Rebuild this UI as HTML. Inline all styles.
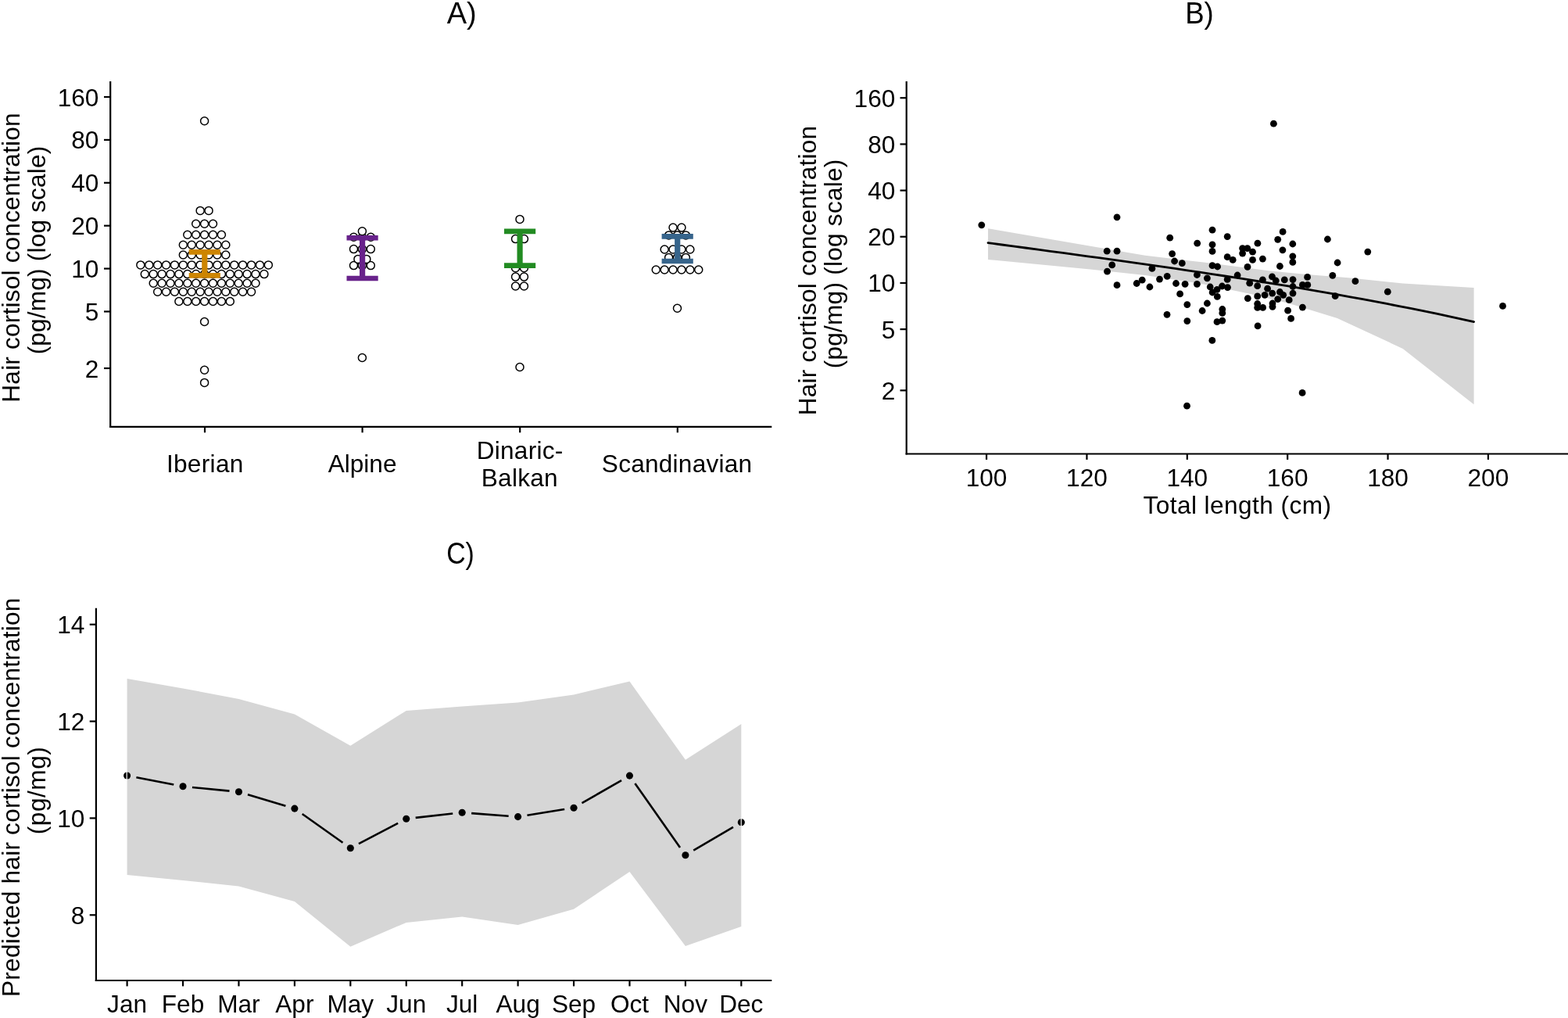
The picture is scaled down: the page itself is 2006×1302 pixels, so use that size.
<!DOCTYPE html>
<html><head><meta charset="utf-8"><title>Figure</title>
<style>
html,body{margin:0;padding:0;background:#fff;}
body{width:2006px;height:1302px;overflow:hidden;}
svg{display:block;}
text{font-family:"Liberation Sans", Arial, Helvetica, sans-serif;fill:#000;}
</style></head>
<body>
<svg width="2006" height="1302" viewBox="0 0 2006 1302">
<rect x="0" y="0" width="2006" height="1302" fill="#fff"/>
<text x="590.7" y="29.7" text-anchor="middle" font-size="38">A)</text>
<text x="1534.5" y="29.7" text-anchor="middle" font-size="38" textLength="36.6" lengthAdjust="spacingAndGlyphs">B)</text>
<text x="589" y="721" text-anchor="middle" font-size="38" textLength="35.7" lengthAdjust="spacingAndGlyphs">C)</text>
<g fill="#fff" stroke="#000" stroke-width="1.5">
<circle cx="261.6" cy="489.4" r="5"/>
<circle cx="261.6" cy="473.2" r="5"/>
<circle cx="665" cy="469.5" r="5"/>
<circle cx="463.4" cy="457.5" r="5"/>
<circle cx="261.6" cy="411.5" r="5"/>
<circle cx="866.5" cy="394.2" r="5"/>
<circle cx="228.9" cy="385.5" r="5"/>
<circle cx="239.8" cy="385.5" r="5"/>
<circle cx="250.7" cy="385.5" r="5"/>
<circle cx="261.6" cy="385.5" r="5"/>
<circle cx="272.5" cy="385.5" r="5"/>
<circle cx="283.4" cy="385.5" r="5"/>
<circle cx="294.3" cy="385.5" r="5"/>
<circle cx="201.65" cy="373.3" r="5"/>
<circle cx="212.55" cy="373.3" r="5"/>
<circle cx="223.45" cy="373.3" r="5"/>
<circle cx="234.35" cy="373.3" r="5"/>
<circle cx="245.25" cy="373.3" r="5"/>
<circle cx="256.15" cy="373.3" r="5"/>
<circle cx="267.05" cy="373.3" r="5"/>
<circle cx="277.95" cy="373.3" r="5"/>
<circle cx="288.85" cy="373.3" r="5"/>
<circle cx="299.75" cy="373.3" r="5"/>
<circle cx="310.65" cy="373.3" r="5"/>
<circle cx="321.55" cy="373.3" r="5"/>
<circle cx="659.55" cy="366" r="5"/>
<circle cx="670.45" cy="366" r="5"/>
<circle cx="196.2" cy="362.2" r="5"/>
<circle cx="207.1" cy="362.2" r="5"/>
<circle cx="218" cy="362.2" r="5"/>
<circle cx="228.9" cy="362.2" r="5"/>
<circle cx="239.8" cy="362.2" r="5"/>
<circle cx="250.7" cy="362.2" r="5"/>
<circle cx="261.6" cy="362.2" r="5"/>
<circle cx="272.5" cy="362.2" r="5"/>
<circle cx="283.4" cy="362.2" r="5"/>
<circle cx="294.3" cy="362.2" r="5"/>
<circle cx="305.2" cy="362.2" r="5"/>
<circle cx="316.1" cy="362.2" r="5"/>
<circle cx="327" cy="362.2" r="5"/>
<circle cx="659.55" cy="354.1" r="5"/>
<circle cx="670.45" cy="354.1" r="5"/>
<circle cx="185.3" cy="350.6" r="5"/>
<circle cx="196.2" cy="350.6" r="5"/>
<circle cx="207.1" cy="350.6" r="5"/>
<circle cx="218" cy="350.6" r="5"/>
<circle cx="228.9" cy="350.6" r="5"/>
<circle cx="239.8" cy="350.6" r="5"/>
<circle cx="250.7" cy="350.6" r="5"/>
<circle cx="261.6" cy="350.6" r="5"/>
<circle cx="272.5" cy="350.6" r="5"/>
<circle cx="283.4" cy="350.6" r="5"/>
<circle cx="294.3" cy="350.6" r="5"/>
<circle cx="305.2" cy="350.6" r="5"/>
<circle cx="316.1" cy="350.6" r="5"/>
<circle cx="327" cy="350.6" r="5"/>
<circle cx="337.9" cy="350.6" r="5"/>
<circle cx="839.25" cy="345" r="5"/>
<circle cx="850.15" cy="345" r="5"/>
<circle cx="861.05" cy="345" r="5"/>
<circle cx="871.95" cy="345" r="5"/>
<circle cx="882.85" cy="345" r="5"/>
<circle cx="893.75" cy="345" r="5"/>
<circle cx="659.55" cy="342.7" r="5"/>
<circle cx="670.45" cy="342.7" r="5"/>
<circle cx="452.5" cy="339.6" r="5"/>
<circle cx="463.4" cy="339.6" r="5"/>
<circle cx="474.3" cy="339.6" r="5"/>
<circle cx="179.85" cy="338.9" r="5"/>
<circle cx="190.75" cy="338.9" r="5"/>
<circle cx="201.65" cy="338.9" r="5"/>
<circle cx="212.55" cy="338.9" r="5"/>
<circle cx="223.45" cy="338.9" r="5"/>
<circle cx="234.35" cy="338.9" r="5"/>
<circle cx="245.25" cy="338.9" r="5"/>
<circle cx="256.15" cy="338.9" r="5"/>
<circle cx="267.05" cy="338.9" r="5"/>
<circle cx="277.95" cy="338.9" r="5"/>
<circle cx="288.85" cy="338.9" r="5"/>
<circle cx="299.75" cy="338.9" r="5"/>
<circle cx="310.65" cy="338.9" r="5"/>
<circle cx="321.55" cy="338.9" r="5"/>
<circle cx="332.45" cy="338.9" r="5"/>
<circle cx="343.35" cy="338.9" r="5"/>
<circle cx="457.95" cy="331.4" r="5"/>
<circle cx="468.85" cy="331.4" r="5"/>
<circle cx="855.6" cy="329.4" r="5"/>
<circle cx="866.5" cy="329.4" r="5"/>
<circle cx="877.4" cy="329.4" r="5"/>
<circle cx="234.35" cy="326" r="5"/>
<circle cx="245.25" cy="326" r="5"/>
<circle cx="256.15" cy="326" r="5"/>
<circle cx="267.05" cy="326" r="5"/>
<circle cx="277.95" cy="326" r="5"/>
<circle cx="288.85" cy="326" r="5"/>
<circle cx="850.15" cy="319" r="5"/>
<circle cx="861.05" cy="319" r="5"/>
<circle cx="871.95" cy="319" r="5"/>
<circle cx="882.85" cy="319" r="5"/>
<circle cx="452.5" cy="318.6" r="5"/>
<circle cx="463.4" cy="318.6" r="5"/>
<circle cx="474.3" cy="318.6" r="5"/>
<circle cx="234.35" cy="313.3" r="5"/>
<circle cx="245.25" cy="313.3" r="5"/>
<circle cx="256.15" cy="313.3" r="5"/>
<circle cx="267.05" cy="313.3" r="5"/>
<circle cx="277.95" cy="313.3" r="5"/>
<circle cx="288.85" cy="313.3" r="5"/>
<circle cx="659.55" cy="305.6" r="5"/>
<circle cx="670.45" cy="305.6" r="5"/>
<circle cx="452.5" cy="303.3" r="5"/>
<circle cx="463.4" cy="303.3" r="5"/>
<circle cx="474.3" cy="303.3" r="5"/>
<circle cx="855.6" cy="300.9" r="5"/>
<circle cx="866.5" cy="300.9" r="5"/>
<circle cx="877.4" cy="300.9" r="5"/>
<circle cx="239.8" cy="300.2" r="5"/>
<circle cx="250.7" cy="300.2" r="5"/>
<circle cx="261.6" cy="300.2" r="5"/>
<circle cx="272.5" cy="300.2" r="5"/>
<circle cx="283.4" cy="300.2" r="5"/>
<circle cx="463.4" cy="295.8" r="5"/>
<circle cx="861.05" cy="291.1" r="5"/>
<circle cx="871.95" cy="291.1" r="5"/>
<circle cx="250.7" cy="286.2" r="5"/>
<circle cx="261.6" cy="286.2" r="5"/>
<circle cx="272.5" cy="286.2" r="5"/>
<circle cx="665" cy="280.4" r="5"/>
<circle cx="256.15" cy="269.4" r="5"/>
<circle cx="267.05" cy="269.4" r="5"/>
<circle cx="261.6" cy="154.8" r="5"/>
</g>
<line x1="241.7" y1="322.4" x2="281.9" y2="322.4" stroke="#CD8500" stroke-width="6.6" stroke-linecap="butt"/>
<line x1="241.7" y1="352.4" x2="281.9" y2="352.4" stroke="#CD8500" stroke-width="6.6" stroke-linecap="butt"/>
<line x1="261.8" y1="322.4" x2="261.8" y2="352.4" stroke="#CD8500" stroke-width="7.2" stroke-linecap="butt"/>
<line x1="443.5" y1="304.3" x2="483.7" y2="304.3" stroke="#68228B" stroke-width="6.6" stroke-linecap="butt"/>
<line x1="443.5" y1="356" x2="483.7" y2="356" stroke="#68228B" stroke-width="6.6" stroke-linecap="butt"/>
<line x1="463.6" y1="304.3" x2="463.6" y2="356" stroke="#68228B" stroke-width="7.2" stroke-linecap="butt"/>
<line x1="645" y1="295.9" x2="685.2" y2="295.9" stroke="#228B22" stroke-width="6.6" stroke-linecap="butt"/>
<line x1="645" y1="339.6" x2="685.2" y2="339.6" stroke="#228B22" stroke-width="6.6" stroke-linecap="butt"/>
<line x1="665.1" y1="295.9" x2="665.1" y2="339.6" stroke="#228B22" stroke-width="7.2" stroke-linecap="butt"/>
<line x1="846.6" y1="302.4" x2="886.8" y2="302.4" stroke="#36648B" stroke-width="6.6" stroke-linecap="butt"/>
<line x1="846.6" y1="334" x2="886.8" y2="334" stroke="#36648B" stroke-width="6.6" stroke-linecap="butt"/>
<line x1="866.7" y1="302.4" x2="866.7" y2="334" stroke="#36648B" stroke-width="7.2" stroke-linecap="butt"/>
<line x1="141.2" y1="104" x2="141.2" y2="547" stroke="#000" stroke-width="2.2" stroke-linecap="butt"/>
<line x1="140.1" y1="545.9" x2="987.3" y2="545.9" stroke="#000" stroke-width="2.2" stroke-linecap="butt"/>
<line x1="133" y1="124.01" x2="141.2" y2="124.01" stroke="#000" stroke-width="2.2" stroke-linecap="butt"/>
<text x="126.4" y="135.51" text-anchor="end" font-size="31.6">160</text>
<line x1="133" y1="178.9" x2="141.2" y2="178.9" stroke="#000" stroke-width="2.2" stroke-linecap="butt"/>
<text x="126.4" y="190.4" text-anchor="end" font-size="31.6">80</text>
<line x1="133" y1="233.79" x2="141.2" y2="233.79" stroke="#000" stroke-width="2.2" stroke-linecap="butt"/>
<text x="126.4" y="245.29" text-anchor="end" font-size="31.6">40</text>
<line x1="133" y1="288.68" x2="141.2" y2="288.68" stroke="#000" stroke-width="2.2" stroke-linecap="butt"/>
<text x="126.4" y="300.18" text-anchor="end" font-size="31.6">20</text>
<line x1="133" y1="343.57" x2="141.2" y2="343.57" stroke="#000" stroke-width="2.2" stroke-linecap="butt"/>
<text x="126.4" y="355.07" text-anchor="end" font-size="31.6">10</text>
<line x1="133" y1="398.46" x2="141.2" y2="398.46" stroke="#000" stroke-width="2.2" stroke-linecap="butt"/>
<text x="126.4" y="409.96" text-anchor="end" font-size="31.6">5</text>
<line x1="133" y1="471.02" x2="141.2" y2="471.02" stroke="#000" stroke-width="2.2" stroke-linecap="butt"/>
<text x="126.4" y="482.52" text-anchor="end" font-size="31.6">2</text>
<line x1="262" y1="545.9" x2="262" y2="553.3" stroke="#000" stroke-width="2.2" stroke-linecap="butt"/>
<line x1="463.6" y1="545.9" x2="463.6" y2="553.3" stroke="#000" stroke-width="2.2" stroke-linecap="butt"/>
<line x1="665.2" y1="545.9" x2="665.2" y2="553.3" stroke="#000" stroke-width="2.2" stroke-linecap="butt"/>
<line x1="866.8" y1="545.9" x2="866.8" y2="553.3" stroke="#000" stroke-width="2.2" stroke-linecap="butt"/>
<text x="262.15" y="604.3" text-anchor="middle" font-size="31.6" textLength="98.5" lengthAdjust="spacing">Iberian</text>
<text x="463.6" y="604.3" text-anchor="middle" font-size="31.6">Alpine</text>
<text x="665" y="587" text-anchor="middle" font-size="31.6" textLength="110.7" lengthAdjust="spacing">Dinaric-</text>
<text x="664.7" y="621.5" text-anchor="middle" font-size="31.6" textLength="97.9" lengthAdjust="spacing">Balkan</text>
<text x="866" y="604.3" text-anchor="middle" font-size="31.6" textLength="192.3" lengthAdjust="spacing">Scandinavian</text>
<text transform="translate(24.9,329.5) rotate(-90)" x="0" y="0" text-anchor="middle" font-size="31.6" textLength="370.3" lengthAdjust="spacing">Hair cortisol concentration</text>
<text transform="translate(58,320) rotate(-90)" x="0" y="0" text-anchor="middle" font-size="31.6" textLength="266.7" lengthAdjust="spacing">(pg/mg) (log scale)</text>
<polygon fill="#D6D6D6" points="1264,292.2 1395,314.8 1440,322.4 1465,326.7 1540,335.6 1625,346.6 1672,351 1725,355.2 1794.7,362.6 1885.6,368.1 1885.6,517.3 1794.7,445.9 1710.8,407 1649,388 1600,376 1540,363.5 1465,352 1395,344.4 1264,331.9"/>
<polyline fill="none" stroke="#000" stroke-width="2.8" stroke-linecap="round" points="1264,310.6 1279.94,312.74 1295.88,314.87 1311.82,317.01 1327.75,319.15 1343.69,321.29 1359.63,323.44 1375.57,325.61 1391.51,327.78 1407.45,329.97 1423.38,332.17 1439.32,334.39 1455.26,336.62 1471.2,338.88 1487.14,341.17 1503.08,343.47 1519.02,345.81 1534.95,348.17 1550.89,350.57 1566.83,353 1582.77,355.46 1598.71,357.96 1614.65,360.5 1630.58,363.08 1646.52,365.7 1662.46,368.37 1678.4,371.09 1694.34,373.85 1710.28,376.66 1726.22,379.53 1742.15,382.45 1758.09,385.43 1774.03,388.47 1789.97,391.57 1805.91,394.73 1821.85,397.95 1837.78,401.24 1853.72,404.6 1869.66,408.04 1885.6,411.54"/>
<g fill="#000">
<circle cx="1255.8" cy="287.8" r="4.4"/>
<circle cx="1629.4" cy="158.2" r="4.4"/>
<circle cx="1429" cy="277.8" r="4.4"/>
<circle cx="1922.5" cy="391.4" r="4.4"/>
<circle cx="1518.5" cy="519.2" r="4.4"/>
<circle cx="1666.1" cy="502.4" r="4.4"/>
<circle cx="1550.8" cy="435.4" r="4.4"/>
<circle cx="1609.1" cy="416.9" r="4.4"/>
<circle cx="1698.4" cy="306" r="4.4"/>
<circle cx="1749.8" cy="322.1" r="4.4"/>
<circle cx="1775.3" cy="373.2" r="4.4"/>
<circle cx="1711.1" cy="336" r="4.4"/>
<circle cx="1733.9" cy="359.7" r="4.4"/>
<circle cx="1704.8" cy="352.3" r="4.4"/>
<circle cx="1708.2" cy="378.7" r="4.4"/>
<circle cx="1416.2" cy="321.2" r="4.4"/>
<circle cx="1429" cy="321.2" r="4.4"/>
<circle cx="1422.7" cy="338.9" r="4.4"/>
<circle cx="1416.5" cy="347.2" r="4.4"/>
<circle cx="1429" cy="364.7" r="4.4"/>
<circle cx="1496.7" cy="304.2" r="4.4"/>
<circle cx="1531.7" cy="311.2" r="4.4"/>
<circle cx="1499.6" cy="324.6" r="4.4"/>
<circle cx="1502.6" cy="334" r="4.4"/>
<circle cx="1512.3" cy="336.7" r="4.4"/>
<circle cx="1473.9" cy="343.4" r="4.4"/>
<circle cx="1461.2" cy="358.2" r="4.4"/>
<circle cx="1454.2" cy="362.5" r="4.4"/>
<circle cx="1470.9" cy="367" r="4.4"/>
<circle cx="1483.5" cy="357.1" r="4.4"/>
<circle cx="1493.2" cy="353.3" r="4.4"/>
<circle cx="1504.5" cy="362.5" r="4.4"/>
<circle cx="1516.1" cy="363.3" r="4.4"/>
<circle cx="1531.4" cy="351.5" r="4.4"/>
<circle cx="1531.4" cy="363.3" r="4.4"/>
<circle cx="1509.6" cy="375.9" r="4.4"/>
<circle cx="1518.8" cy="389.6" r="4.4"/>
<circle cx="1538.1" cy="397.5" r="4.4"/>
<circle cx="1493" cy="402.3" r="4.4"/>
<circle cx="1518.8" cy="410.6" r="4.4"/>
<circle cx="1551" cy="294.2" r="4.4"/>
<circle cx="1570.2" cy="302.6" r="4.4"/>
<circle cx="1551" cy="312.8" r="4.4"/>
<circle cx="1551" cy="321.4" r="4.4"/>
<circle cx="1608.9" cy="311.2" r="4.4"/>
<circle cx="1589.6" cy="317.6" r="4.4"/>
<circle cx="1595.8" cy="317.6" r="4.4"/>
<circle cx="1589.6" cy="324.1" r="4.4"/>
<circle cx="1602.5" cy="322.2" r="4.4"/>
<circle cx="1570.2" cy="328.7" r="4.4"/>
<circle cx="1577.2" cy="332.4" r="4.4"/>
<circle cx="1602.5" cy="332.4" r="4.4"/>
<circle cx="1615.4" cy="331.1" r="4.4"/>
<circle cx="1551" cy="339.7" r="4.4"/>
<circle cx="1557.6" cy="341" r="4.4"/>
<circle cx="1596" cy="341.3" r="4.4"/>
<circle cx="1583.1" cy="352" r="4.4"/>
<circle cx="1544.4" cy="355.8" r="4.4"/>
<circle cx="1570.2" cy="357.4" r="4.4"/>
<circle cx="1548.2" cy="367" r="4.4"/>
<circle cx="1563.5" cy="366" r="4.4"/>
<circle cx="1570.5" cy="367.6" r="4.4"/>
<circle cx="1551.1" cy="374" r="4.4"/>
<circle cx="1557.3" cy="379.4" r="4.4"/>
<circle cx="1557" cy="370.3" r="4.4"/>
<circle cx="1598.7" cy="362.2" r="4.4"/>
<circle cx="1608.7" cy="365.7" r="4.4"/>
<circle cx="1615.4" cy="357.9" r="4.4"/>
<circle cx="1627.5" cy="353.9" r="4.4"/>
<circle cx="1632.3" cy="359" r="4.4"/>
<circle cx="1621.6" cy="369.2" r="4.4"/>
<circle cx="1618.1" cy="377.3" r="4.4"/>
<circle cx="1627.7" cy="375.1" r="4.4"/>
<circle cx="1608.7" cy="378.9" r="4.4"/>
<circle cx="1634.7" cy="382.6" r="4.4"/>
<circle cx="1596.3" cy="381.6" r="4.4"/>
<circle cx="1544.4" cy="388" r="4.4"/>
<circle cx="1563.8" cy="395.5" r="4.4"/>
<circle cx="1563.8" cy="400.4" r="4.4"/>
<circle cx="1608.7" cy="388.5" r="4.4"/>
<circle cx="1608.7" cy="393.4" r="4.4"/>
<circle cx="1615.6" cy="393.4" r="4.4"/>
<circle cx="1628" cy="388" r="4.4"/>
<circle cx="1628" cy="392.3" r="4.4"/>
<circle cx="1563.8" cy="410.1" r="4.4"/>
<circle cx="1557" cy="411.7" r="4.4"/>
<circle cx="1641.1" cy="296.4" r="4.4"/>
<circle cx="1634.7" cy="306.3" r="4.4"/>
<circle cx="1653.8" cy="312" r="4.4"/>
<circle cx="1640.9" cy="319.8" r="4.4"/>
<circle cx="1653.8" cy="327.8" r="4.4"/>
<circle cx="1653.8" cy="335.4" r="4.4"/>
<circle cx="1637.4" cy="340.5" r="4.4"/>
<circle cx="1643.3" cy="357.9" r="4.4"/>
<circle cx="1654" cy="357.6" r="4.4"/>
<circle cx="1672.6" cy="354.4" r="4.4"/>
<circle cx="1666.4" cy="364.4" r="4.4"/>
<circle cx="1672.8" cy="364.4" r="4.4"/>
<circle cx="1654" cy="366.5" r="4.4"/>
<circle cx="1654" cy="375.1" r="4.4"/>
<circle cx="1649.2" cy="383.7" r="4.4"/>
<circle cx="1637.4" cy="373.5" r="4.4"/>
<circle cx="1641.7" cy="377.3" r="4.4"/>
<circle cx="1647.6" cy="397.2" r="4.4"/>
<circle cx="1666.4" cy="393.1" r="4.4"/>
<circle cx="1651.6" cy="407.4" r="4.4"/>
</g>
<line x1="1159.7" y1="104" x2="1159.7" y2="581.6" stroke="#000" stroke-width="2.2" stroke-linecap="butt"/>
<line x1="1158.6" y1="580.5" x2="2006" y2="580.5" stroke="#000" stroke-width="2.2" stroke-linecap="butt"/>
<line x1="1151.5" y1="125.22" x2="1159.7" y2="125.22" stroke="#000" stroke-width="2.2" stroke-linecap="butt"/>
<text x="1145.3" y="136.72" text-anchor="end" font-size="31.6">160</text>
<line x1="1151.5" y1="184.4" x2="1159.7" y2="184.4" stroke="#000" stroke-width="2.2" stroke-linecap="butt"/>
<text x="1145.3" y="195.9" text-anchor="end" font-size="31.6">80</text>
<line x1="1151.5" y1="243.58" x2="1159.7" y2="243.58" stroke="#000" stroke-width="2.2" stroke-linecap="butt"/>
<text x="1145.3" y="255.08" text-anchor="end" font-size="31.6">40</text>
<line x1="1151.5" y1="302.76" x2="1159.7" y2="302.76" stroke="#000" stroke-width="2.2" stroke-linecap="butt"/>
<text x="1145.3" y="314.26" text-anchor="end" font-size="31.6">20</text>
<line x1="1151.5" y1="361.94" x2="1159.7" y2="361.94" stroke="#000" stroke-width="2.2" stroke-linecap="butt"/>
<text x="1145.3" y="373.44" text-anchor="end" font-size="31.6">10</text>
<line x1="1151.5" y1="421.12" x2="1159.7" y2="421.12" stroke="#000" stroke-width="2.2" stroke-linecap="butt"/>
<text x="1145.3" y="432.62" text-anchor="end" font-size="31.6">5</text>
<line x1="1151.5" y1="499.35" x2="1159.7" y2="499.35" stroke="#000" stroke-width="2.2" stroke-linecap="butt"/>
<text x="1145.3" y="510.85" text-anchor="end" font-size="31.6">2</text>
<line x1="1262.06" y1="580.5" x2="1262.06" y2="587.9" stroke="#000" stroke-width="2.2" stroke-linecap="butt"/>
<text x="1262.06" y="621.6" text-anchor="middle" font-size="31.6">100</text>
<line x1="1390.43" y1="580.5" x2="1390.43" y2="587.9" stroke="#000" stroke-width="2.2" stroke-linecap="butt"/>
<text x="1390.43" y="621.6" text-anchor="middle" font-size="31.6">120</text>
<line x1="1518.8" y1="580.5" x2="1518.8" y2="587.9" stroke="#000" stroke-width="2.2" stroke-linecap="butt"/>
<text x="1518.8" y="621.6" text-anchor="middle" font-size="31.6">140</text>
<line x1="1647.17" y1="580.5" x2="1647.17" y2="587.9" stroke="#000" stroke-width="2.2" stroke-linecap="butt"/>
<text x="1647.17" y="621.6" text-anchor="middle" font-size="31.6">160</text>
<line x1="1775.54" y1="580.5" x2="1775.54" y2="587.9" stroke="#000" stroke-width="2.2" stroke-linecap="butt"/>
<text x="1775.54" y="621.6" text-anchor="middle" font-size="31.6">180</text>
<line x1="1903.91" y1="580.5" x2="1903.91" y2="587.9" stroke="#000" stroke-width="2.2" stroke-linecap="butt"/>
<text x="1903.91" y="621.6" text-anchor="middle" font-size="31.6">200</text>
<text x="1582.7" y="656.5" text-anchor="middle" font-size="31.6" textLength="240.5" lengthAdjust="spacing">Total length (cm)</text>
<text transform="translate(1043.5,346.1) rotate(-90)" x="0" y="0" text-anchor="middle" font-size="31.6" textLength="370.5" lengthAdjust="spacing">Hair cortisol concentration</text>
<text transform="translate(1076.7,337.5) rotate(-90)" x="0" y="0" text-anchor="middle" font-size="31.6" textLength="267.7" lengthAdjust="spacing">(pg/mg) (log scale)</text>
<polygon fill="#D6D6D6" points="162.6,867.9 234.03,880.4 305.46,893.9 376.89,913.4 448.32,953.8 519.75,908.9 591.18,903.5 662.61,898.4 734.04,888.5 805.47,871.4 876.9,971.8 948.33,926 948.33,1185 876.9,1209.9 805.47,1114.9 734.04,1162.8 662.61,1182.9 591.18,1172.4 519.75,1179.9 448.32,1210.8 376.89,1153 305.46,1133.5 234.03,1126 162.6,1119.1"/>
<line x1="174.38" y1="994.28" x2="222.25" y2="1003.52" stroke="#000" stroke-width="2.6" stroke-linecap="butt"/>
<line x1="245.97" y1="1006.97" x2="293.52" y2="1011.63" stroke="#000" stroke-width="2.6" stroke-linecap="butt"/>
<line x1="316.96" y1="1016.23" x2="365.39" y2="1030.67" stroke="#000" stroke-width="2.6" stroke-linecap="butt"/>
<line x1="386.68" y1="1041.04" x2="438.53" y2="1077.76" stroke="#000" stroke-width="2.6" stroke-linecap="butt"/>
<line x1="458.94" y1="1079.12" x2="509.13" y2="1052.78" stroke="#000" stroke-width="2.6" stroke-linecap="butt"/>
<line x1="531.68" y1="1045.86" x2="579.25" y2="1040.54" stroke="#000" stroke-width="2.6" stroke-linecap="butt"/>
<line x1="603.15" y1="1040.1" x2="650.64" y2="1043.7" stroke="#000" stroke-width="2.6" stroke-linecap="butt"/>
<line x1="674.46" y1="1042.71" x2="722.19" y2="1035.09" stroke="#000" stroke-width="2.6" stroke-linecap="butt"/>
<line x1="744.44" y1="1027.22" x2="795.07" y2="998.08" stroke="#000" stroke-width="2.6" stroke-linecap="butt"/>
<line x1="812.37" y1="1001.92" x2="870" y2="1083.88" stroke="#000" stroke-width="2.6" stroke-linecap="butt"/>
<line x1="887.24" y1="1087.62" x2="937.99" y2="1057.78" stroke="#000" stroke-width="2.6" stroke-linecap="butt"/>
<g fill="#000">
<circle cx="162.6" cy="992" r="4.55"/>
<circle cx="234.03" cy="1005.8" r="4.55"/>
<circle cx="305.46" cy="1012.8" r="4.55"/>
<circle cx="376.89" cy="1034.1" r="4.55"/>
<circle cx="448.32" cy="1084.7" r="4.55"/>
<circle cx="519.75" cy="1047.2" r="4.55"/>
<circle cx="591.18" cy="1039.2" r="4.55"/>
<circle cx="662.61" cy="1044.6" r="4.55"/>
<circle cx="734.04" cy="1033.2" r="4.55"/>
<circle cx="805.47" cy="992.1" r="4.55"/>
<circle cx="876.9" cy="1093.7" r="4.55"/>
<circle cx="948.33" cy="1051.7" r="4.55"/>
</g>
<line x1="162.2" y1="986.8" x2="162.2" y2="997.2" stroke="#fff" stroke-width="1.2" stroke-linecap="butt"/>
<line x1="948.23" y1="1046.5" x2="948.23" y2="1056.9" stroke="#fff" stroke-width="1.2" stroke-linecap="butt"/>
<line x1="122.9" y1="777.7" x2="122.9" y2="1255.1" stroke="#000" stroke-width="2.2" stroke-linecap="butt"/>
<line x1="121.8" y1="1254" x2="987.3" y2="1254" stroke="#000" stroke-width="2.2" stroke-linecap="butt"/>
<line x1="114.7" y1="798.7" x2="122.9" y2="798.7" stroke="#000" stroke-width="2.2" stroke-linecap="butt"/>
<text x="108.3" y="810.2" text-anchor="end" font-size="31.6">14</text>
<line x1="114.7" y1="922.56" x2="122.9" y2="922.56" stroke="#000" stroke-width="2.2" stroke-linecap="butt"/>
<text x="108.3" y="934.06" text-anchor="end" font-size="31.6">12</text>
<line x1="114.7" y1="1046.42" x2="122.9" y2="1046.42" stroke="#000" stroke-width="2.2" stroke-linecap="butt"/>
<text x="108.3" y="1057.92" text-anchor="end" font-size="31.6">10</text>
<line x1="114.7" y1="1170.28" x2="122.9" y2="1170.28" stroke="#000" stroke-width="2.2" stroke-linecap="butt"/>
<text x="108.3" y="1181.78" text-anchor="end" font-size="31.6">8</text>
<line x1="162.6" y1="1254" x2="162.6" y2="1261.4" stroke="#000" stroke-width="2.2" stroke-linecap="butt"/>
<text x="162.6" y="1294.7" text-anchor="middle" font-size="31.6">Jan</text>
<line x1="234.03" y1="1254" x2="234.03" y2="1261.4" stroke="#000" stroke-width="2.2" stroke-linecap="butt"/>
<text x="234.03" y="1294.7" text-anchor="middle" font-size="31.6">Feb</text>
<line x1="305.46" y1="1254" x2="305.46" y2="1261.4" stroke="#000" stroke-width="2.2" stroke-linecap="butt"/>
<text x="305.46" y="1294.7" text-anchor="middle" font-size="31.6">Mar</text>
<line x1="376.89" y1="1254" x2="376.89" y2="1261.4" stroke="#000" stroke-width="2.2" stroke-linecap="butt"/>
<text x="376.89" y="1294.7" text-anchor="middle" font-size="31.6">Apr</text>
<line x1="448.32" y1="1254" x2="448.32" y2="1261.4" stroke="#000" stroke-width="2.2" stroke-linecap="butt"/>
<text x="448.32" y="1294.7" text-anchor="middle" font-size="31.6">May</text>
<line x1="519.75" y1="1254" x2="519.75" y2="1261.4" stroke="#000" stroke-width="2.2" stroke-linecap="butt"/>
<text x="519.75" y="1294.7" text-anchor="middle" font-size="31.6">Jun</text>
<line x1="591.18" y1="1254" x2="591.18" y2="1261.4" stroke="#000" stroke-width="2.2" stroke-linecap="butt"/>
<text x="591.18" y="1294.7" text-anchor="middle" font-size="31.6">Jul</text>
<line x1="662.61" y1="1254" x2="662.61" y2="1261.4" stroke="#000" stroke-width="2.2" stroke-linecap="butt"/>
<text x="662.61" y="1294.7" text-anchor="middle" font-size="31.6">Aug</text>
<line x1="734.04" y1="1254" x2="734.04" y2="1261.4" stroke="#000" stroke-width="2.2" stroke-linecap="butt"/>
<text x="734.04" y="1294.7" text-anchor="middle" font-size="31.6">Sep</text>
<line x1="805.47" y1="1254" x2="805.47" y2="1261.4" stroke="#000" stroke-width="2.2" stroke-linecap="butt"/>
<text x="805.47" y="1294.7" text-anchor="middle" font-size="31.6">Oct</text>
<line x1="876.9" y1="1254" x2="876.9" y2="1261.4" stroke="#000" stroke-width="2.2" stroke-linecap="butt"/>
<text x="876.9" y="1294.7" text-anchor="middle" font-size="31.6">Nov</text>
<line x1="948.33" y1="1254" x2="948.33" y2="1261.4" stroke="#000" stroke-width="2.2" stroke-linecap="butt"/>
<text x="948.33" y="1294.7" text-anchor="middle" font-size="31.6">Dec</text>
<text transform="translate(24.8,1019.8) rotate(-90)" x="0" y="0" text-anchor="middle" font-size="31.6" textLength="510.3" lengthAdjust="spacing">Predicted hair cortisol concentration</text>
<text transform="translate(58.2,1011.2) rotate(-90)" x="0" y="0" text-anchor="middle" font-size="31.6" textLength="112.1" lengthAdjust="spacing">(pg/mg)</text>
</svg>
</body></html>
